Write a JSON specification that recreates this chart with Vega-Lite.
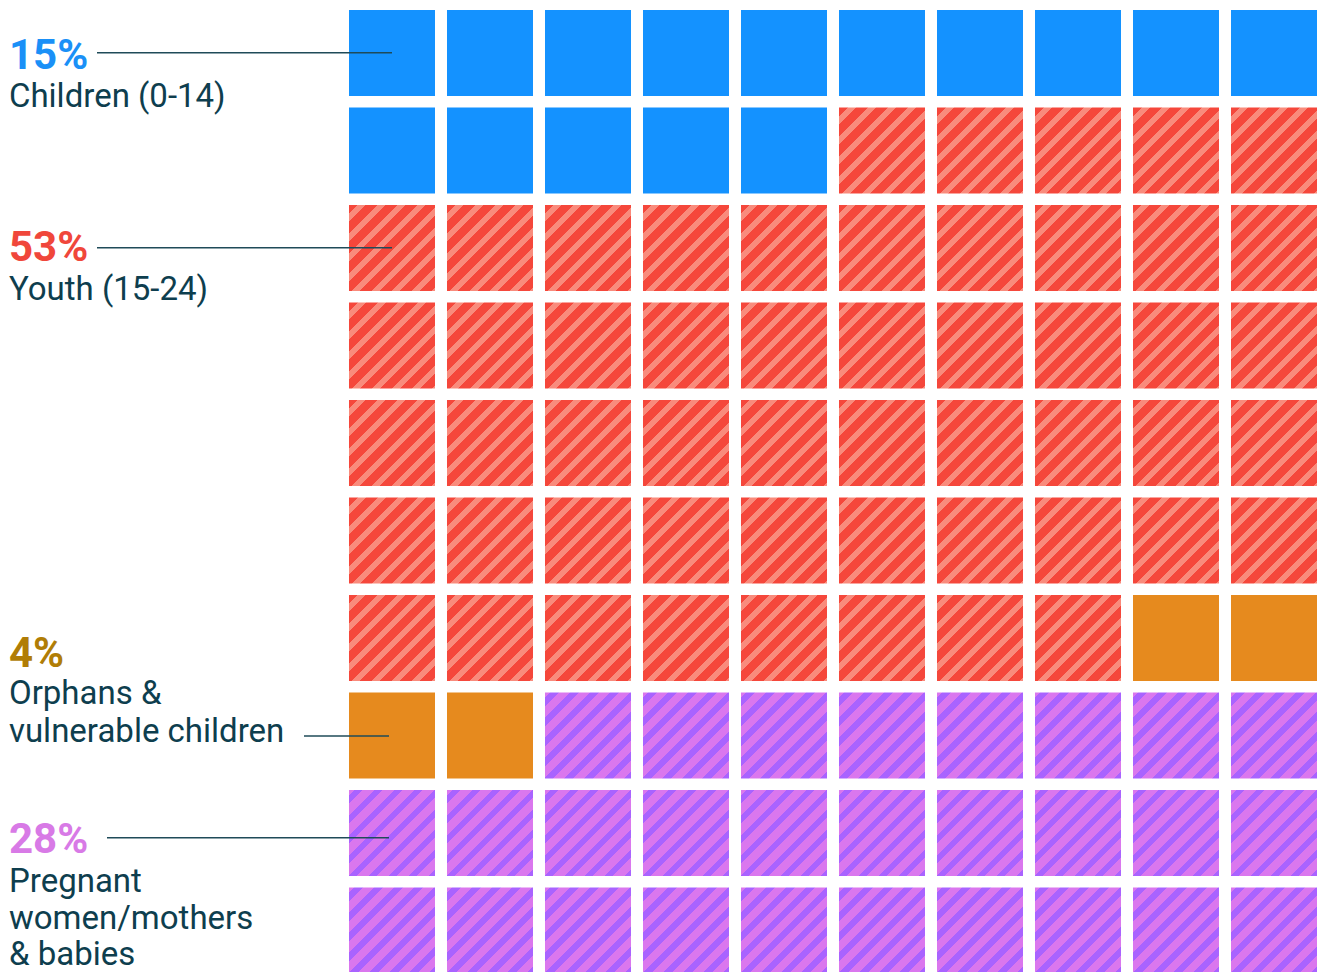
{
  "$schema": "https://vega.github.io/schema/vega-lite/v6.json",
  "width": 1317,
  "height": 973.5,
  "padding": 0,
  "autosize": "none",
  "background": "white",
  "config": {"view": {"stroke": null}},
  "datasets": {
    "cells": [
      {"c":0,"r":0,"g":"Children"},{"c":1,"r":0,"g":"Children"},{"c":2,"r":0,"g":"Children"},{"c":3,"r":0,"g":"Children"},{"c":4,"r":0,"g":"Children"},{"c":5,"r":0,"g":"Children"},{"c":6,"r":0,"g":"Children"},{"c":7,"r":0,"g":"Children"},{"c":8,"r":0,"g":"Children"},{"c":9,"r":0,"g":"Children"},
      {"c":0,"r":1,"g":"Children"},{"c":1,"r":1,"g":"Children"},{"c":2,"r":1,"g":"Children"},{"c":3,"r":1,"g":"Children"},{"c":4,"r":1,"g":"Children"},{"c":5,"r":1,"g":"Youth"},{"c":6,"r":1,"g":"Youth"},{"c":7,"r":1,"g":"Youth"},{"c":8,"r":1,"g":"Youth"},{"c":9,"r":1,"g":"Youth"},
      {"c":0,"r":2,"g":"Youth"},{"c":1,"r":2,"g":"Youth"},{"c":2,"r":2,"g":"Youth"},{"c":3,"r":2,"g":"Youth"},{"c":4,"r":2,"g":"Youth"},{"c":5,"r":2,"g":"Youth"},{"c":6,"r":2,"g":"Youth"},{"c":7,"r":2,"g":"Youth"},{"c":8,"r":2,"g":"Youth"},{"c":9,"r":2,"g":"Youth"},
      {"c":0,"r":3,"g":"Youth"},{"c":1,"r":3,"g":"Youth"},{"c":2,"r":3,"g":"Youth"},{"c":3,"r":3,"g":"Youth"},{"c":4,"r":3,"g":"Youth"},{"c":5,"r":3,"g":"Youth"},{"c":6,"r":3,"g":"Youth"},{"c":7,"r":3,"g":"Youth"},{"c":8,"r":3,"g":"Youth"},{"c":9,"r":3,"g":"Youth"},
      {"c":0,"r":4,"g":"Youth"},{"c":1,"r":4,"g":"Youth"},{"c":2,"r":4,"g":"Youth"},{"c":3,"r":4,"g":"Youth"},{"c":4,"r":4,"g":"Youth"},{"c":5,"r":4,"g":"Youth"},{"c":6,"r":4,"g":"Youth"},{"c":7,"r":4,"g":"Youth"},{"c":8,"r":4,"g":"Youth"},{"c":9,"r":4,"g":"Youth"},
      {"c":0,"r":5,"g":"Youth"},{"c":1,"r":5,"g":"Youth"},{"c":2,"r":5,"g":"Youth"},{"c":3,"r":5,"g":"Youth"},{"c":4,"r":5,"g":"Youth"},{"c":5,"r":5,"g":"Youth"},{"c":6,"r":5,"g":"Youth"},{"c":7,"r":5,"g":"Youth"},{"c":8,"r":5,"g":"Youth"},{"c":9,"r":5,"g":"Youth"},
      {"c":0,"r":6,"g":"Youth"},{"c":1,"r":6,"g":"Youth"},{"c":2,"r":6,"g":"Youth"},{"c":3,"r":6,"g":"Youth"},{"c":4,"r":6,"g":"Youth"},{"c":5,"r":6,"g":"Youth"},{"c":6,"r":6,"g":"Youth"},{"c":7,"r":6,"g":"Youth"},{"c":8,"r":6,"g":"Orphans"},{"c":9,"r":6,"g":"Orphans"},
      {"c":0,"r":7,"g":"Orphans"},{"c":1,"r":7,"g":"Orphans"},{"c":2,"r":7,"g":"Pregnant"},{"c":3,"r":7,"g":"Pregnant"},{"c":4,"r":7,"g":"Pregnant"},{"c":5,"r":7,"g":"Pregnant"},{"c":6,"r":7,"g":"Pregnant"},{"c":7,"r":7,"g":"Pregnant"},{"c":8,"r":7,"g":"Pregnant"},{"c":9,"r":7,"g":"Pregnant"},
      {"c":0,"r":8,"g":"Pregnant"},{"c":1,"r":8,"g":"Pregnant"},{"c":2,"r":8,"g":"Pregnant"},{"c":3,"r":8,"g":"Pregnant"},{"c":4,"r":8,"g":"Pregnant"},{"c":5,"r":8,"g":"Pregnant"},{"c":6,"r":8,"g":"Pregnant"},{"c":7,"r":8,"g":"Pregnant"},{"c":8,"r":8,"g":"Pregnant"},{"c":9,"r":8,"g":"Pregnant"},
      {"c":0,"r":9,"g":"Pregnant"},{"c":1,"r":9,"g":"Pregnant"},{"c":2,"r":9,"g":"Pregnant"},{"c":3,"r":9,"g":"Pregnant"},{"c":4,"r":9,"g":"Pregnant"},{"c":5,"r":9,"g":"Pregnant"},{"c":6,"r":9,"g":"Pregnant"},{"c":7,"r":9,"g":"Pregnant"},{"c":8,"r":9,"g":"Pregnant"},{"c":9,"r":9,"g":"Pregnant"}
    ],
    "pcts": [
      {"t":"15%","u":-3.47,"v":0.6051,"g":"Children"},
      {"t":"53%","u":-3.47,"v":2.5744,"g":"Youth"},
      {"t":"4%","u":-3.47,"v":6.7385,"g":"Orphans"},
      {"t":"28%","u":-3.47,"v":8.6462,"g":"Pregnant"}
    ],
    "descs": [
      {"t":"Children (0-14)","u":-3.47,"v":1.0},
      {"t":"Youth (15-24)","u":-3.47,"v":2.9795},
      {"t":"Orphans &","u":-3.47,"v":7.118},
      {"t":"vulnerable children","u":-3.47,"v":7.508},
      {"t":"Pregnant","u":-3.47,"v":9.046},
      {"t":"women/mothers","u":-3.47,"v":9.426},
      {"t":"& babies","u":-3.47,"v":9.795}
    ],
    "leaders": [
      {"g":"Children","u1":-2.5714,"u2":0.4388,"v":0.438},
      {"g":"Youth","u1":-2.5714,"u2":0.4388,"v":2.438},
      {"g":"Orphans","u1":-0.4592,"u2":0.408,"v":7.446},
      {"g":"Pregnant","u1":-2.4694,"u2":0.408,"v":8.489}
    ]
  },
  "layer": [
    {
      "data": {"name": "cells"},
      "encoding": {
        "x": {"field": "c", "type": "ordinal", "axis": null,
              "scale": {"type": "band", "domain": [-3,-2,-1,0,1,2,3,4,5,6,7,8,9], "paddingInner": 0.122449, "paddingOuter": 0.2806, "align": 1}},
        "y": {"field": "r", "type": "ordinal", "axis": null,
              "scale": {"type": "band", "domain": [0,1,2,3,4,5,6,7,8,9], "paddingInner": 0.117949, "paddingOuter": 0.05128, "align": 1}}
      },
      "layer": [
        {"transform": [{"filter": "datum.g === 'Children'"}], "mark": {"type": "rect", "fill": "#1492FF"}},
        {"transform": [{"filter": "datum.g === 'Orphans'"}], "mark": {"type": "rect", "fill": "#E68A1E"}},
        {"transform": [{"filter": "datum.g === 'Youth'"}], "mark": {"type": "rect", "fill": {
          "gradient": "linear", "x1": 0, "y1": 0, "x2": 1, "y2": 1,
          "stops": [
            {"offset": 0, "color": "#F5473B"},
            {"offset": 0.05, "color": "#F5473B"}, {"offset": 0.05, "color": "#F98B7C"}, {"offset": 0.0965, "color": "#F98B7C"}, {"offset": 0.0965, "color": "#F5473B"},
            {"offset": 0.1663, "color": "#F5473B"}, {"offset": 0.1663, "color": "#F98B7C"}, {"offset": 0.2128, "color": "#F98B7C"}, {"offset": 0.2128, "color": "#F5473B"},
            {"offset": 0.2826, "color": "#F5473B"}, {"offset": 0.2826, "color": "#F98B7C"}, {"offset": 0.3291, "color": "#F98B7C"}, {"offset": 0.3291, "color": "#F5473B"},
            {"offset": 0.3988, "color": "#F5473B"}, {"offset": 0.3988, "color": "#F98B7C"}, {"offset": 0.4453, "color": "#F98B7C"}, {"offset": 0.4453, "color": "#F5473B"},
            {"offset": 0.5151, "color": "#F5473B"}, {"offset": 0.5151, "color": "#F98B7C"}, {"offset": 0.5616, "color": "#F98B7C"}, {"offset": 0.5616, "color": "#F5473B"},
            {"offset": 0.6314, "color": "#F5473B"}, {"offset": 0.6314, "color": "#F98B7C"}, {"offset": 0.6779, "color": "#F98B7C"}, {"offset": 0.6779, "color": "#F5473B"},
            {"offset": 0.7477, "color": "#F5473B"}, {"offset": 0.7477, "color": "#F98B7C"}, {"offset": 0.7942, "color": "#F98B7C"}, {"offset": 0.7942, "color": "#F5473B"},
            {"offset": 0.864, "color": "#F5473B"}, {"offset": 0.864, "color": "#F98B7C"}, {"offset": 0.9105, "color": "#F98B7C"}, {"offset": 0.9105, "color": "#F5473B"},
            {"offset": 0.9802, "color": "#F5473B"}, {"offset": 0.9802, "color": "#F98B7C"}, {"offset": 1, "color": "#F98B7C"}
          ]}}},
        {"transform": [{"filter": "datum.g === 'Pregnant'"}], "mark": {"type": "rect", "fill": {
          "gradient": "linear", "x1": 0, "y1": 0, "x2": 1, "y2": 1,
          "stops": [
            {"offset": 0, "color": "#DA77EE"},
            {"offset": 0.03, "color": "#DA77EE"}, {"offset": 0.03, "color": "#A963FF"}, {"offset": 0.0788, "color": "#A963FF"}, {"offset": 0.0788, "color": "#DA77EE"},
            {"offset": 0.1463, "color": "#DA77EE"}, {"offset": 0.1463, "color": "#A963FF"}, {"offset": 0.1951, "color": "#A963FF"}, {"offset": 0.1951, "color": "#DA77EE"},
            {"offset": 0.2626, "color": "#DA77EE"}, {"offset": 0.2626, "color": "#A963FF"}, {"offset": 0.3114, "color": "#A963FF"}, {"offset": 0.3114, "color": "#DA77EE"},
            {"offset": 0.3788, "color": "#DA77EE"}, {"offset": 0.3788, "color": "#A963FF"}, {"offset": 0.4276, "color": "#A963FF"}, {"offset": 0.4276, "color": "#DA77EE"},
            {"offset": 0.4951, "color": "#DA77EE"}, {"offset": 0.4951, "color": "#A963FF"}, {"offset": 0.5439, "color": "#A963FF"}, {"offset": 0.5439, "color": "#DA77EE"},
            {"offset": 0.6114, "color": "#DA77EE"}, {"offset": 0.6114, "color": "#A963FF"}, {"offset": 0.6602, "color": "#A963FF"}, {"offset": 0.6602, "color": "#DA77EE"},
            {"offset": 0.7277, "color": "#DA77EE"}, {"offset": 0.7277, "color": "#A963FF"}, {"offset": 0.7765, "color": "#A963FF"}, {"offset": 0.7765, "color": "#DA77EE"},
            {"offset": 0.844, "color": "#DA77EE"}, {"offset": 0.844, "color": "#A963FF"}, {"offset": 0.8928, "color": "#A963FF"}, {"offset": 0.8928, "color": "#DA77EE"},
            {"offset": 0.9602, "color": "#DA77EE"}, {"offset": 0.9602, "color": "#A963FF"}, {"offset": 1, "color": "#A963FF"}
          ]}}}
      ]
    },
    {
      "layer": [
        {
          "data": {"name": "leaders"},
          "mark": {"type": "rule", "stroke": "#1F4B59", "strokeWidth": 1.5},
          "encoding": {
            "x": {"field": "u1", "type": "quantitative", "axis": null, "scale": {"domain": [-3.5612, 9.8776], "nice": false, "zero": false}},
            "x2": {"field": "u2"},
            "y": {"field": "v", "type": "quantitative", "axis": null, "scale": {"domain": [-0.10256, 9.8821], "nice": false, "zero": false, "reverse": true}}
          }
        },
        {
          "data": {"name": "pcts"},
          "mark": {"type": "text", "align": "left", "baseline": "alphabetic", "font": "Roboto", "fontWeight": "bold", "fontSize": 42},
          "encoding": {
            "x": {"field": "u", "type": "quantitative", "axis": null, "scale": {"domain": [-3.5612, 9.8776], "nice": false, "zero": false}},
            "y": {"field": "v", "type": "quantitative", "axis": null, "scale": {"domain": [-0.10256, 9.8821], "nice": false, "zero": false, "reverse": true}},
            "text": {"field": "t"},
            "color": {"field": "g", "type": "nominal", "legend": null,
                      "scale": {"domain": ["Children", "Youth", "Orphans", "Pregnant"], "range": ["#1A90F7", "#F0473B", "#B07D06", "#D87AE6"]}}
          }
        },
        {
          "data": {"name": "descs"},
          "mark": {"type": "text", "align": "left", "baseline": "alphabetic", "font": "Roboto", "fontSize": 33, "color": "#0E3E4E"},
          "encoding": {
            "x": {"field": "u", "type": "quantitative", "axis": null, "scale": {"domain": [-3.5612, 9.8776], "nice": false, "zero": false}},
            "y": {"field": "v", "type": "quantitative", "axis": null, "scale": {"domain": [-0.10256, 9.8821], "nice": false, "zero": false, "reverse": true}},
            "text": {"field": "t"}
          }
        }
      ]
    }
  ],
  "resolve": {"scale": {"x": "independent", "y": "independent", "color": "independent"}}
}
